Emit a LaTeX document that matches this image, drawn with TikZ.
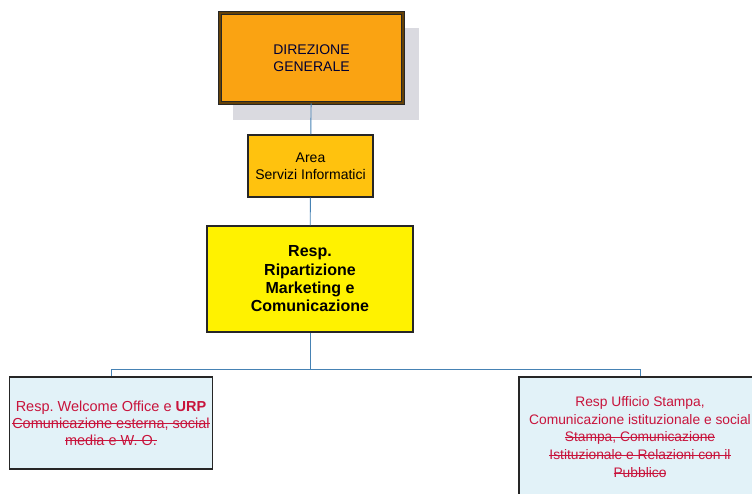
\documentclass[tikz,border=0pt]{standalone}
\usepackage{fontspec}
\setmainfont{Liberation Sans}
\frenchspacing
\newsavebox{\strkbox}
\newcommand{\strk}[1]{\sbox{\strkbox}{#1}\rlap{\rule[0.3em]{\wd\strkbox}{0.7pt}}\usebox{\strkbox}}
\definecolor{dgorange}{RGB}{250,163,18}
\definecolor{areagold}{RGB}{255,194,14}
\definecolor{respyellow}{RGB}{255,242,0}
\definecolor{paleblue}{RGB}{226,242,248}
\definecolor{linkblue}{RGB}{70,130,180}
\definecolor{shadowgray}{RGB}{218,218,224}
\definecolor{txtred}{RGB}{200,20,60}
\tikzset{
  unitbox/.style={draw=black!85, line width=1.2pt, align=center, inner sep=0pt},
  link/.style={draw=linkblue, line width=0.9pt}
}
\begin{document}
\begin{tikzpicture}[x=1pt, y=-1pt]
    \useasboundingbox (0,0) rectangle (752,494);

    \fill[shadowgray] (233,28) rectangle (419,120);
    \node[unitbox, fill=dgorange, line width=0.9pt, double=black!60!dgorange, double distance=1.6pt,
          minimum width=183pt, minimum height=90pt, font=\fontsize{14}{17}\selectfont,
          text=black!80!blue]
          (dg) at (311.5,58) {DIREZIONE\\GENERALE};
    \node[unitbox, fill=areagold, minimum width=125pt, minimum height=62pt,
          font=\fontsize{14}{17}\selectfont]
          (area) at (310.5,166) {Area\\Servizi Informatici};
    \node[unitbox, fill=respyellow, minimum width=206pt, minimum height=106pt,
          font=\fontsize{16}{18.3}\selectfont\bfseries]
          (resp) at (310,279) {Resp.\\Ripartizione\\Marketing e\\Comunicazione};
    \node[unitbox, fill=paleblue, minimum width=203pt, minimum height=92pt,
          text=txtred, font=\fontsize{14.5}{17}\selectfont]
          (welc) at (111,423) {Resp. Welcome Office e \textbf{URP}\\
          \strk{Comunicazione esterna, social}\\ \strk{media e W. O.}};
    \node[unitbox, fill=paleblue, minimum width=242pt, minimum height=120pt,
          text=txtred, font=\fontsize{13.8}{17.8}\selectfont]
          (stampa) at (640,437) {Resp Ufficio Stampa,\\
          Comunicazione istituzionale e social\\ \strk{Stampa, Comunicazione}\\
          \strk{Istituzionale e Relazioni con il}\\ \strk{Pubblico}};

    \coordinate (bus) at (310,369);
    \draw[link] (dg) -- (area);
    \draw[link] (area) -- (resp);
    \draw[link] (resp) -- (bus);
    \draw[link] (bus) -| (welc.north);
    \draw[link] (bus) -| (stampa.north);
\end{tikzpicture}
\end{document}
